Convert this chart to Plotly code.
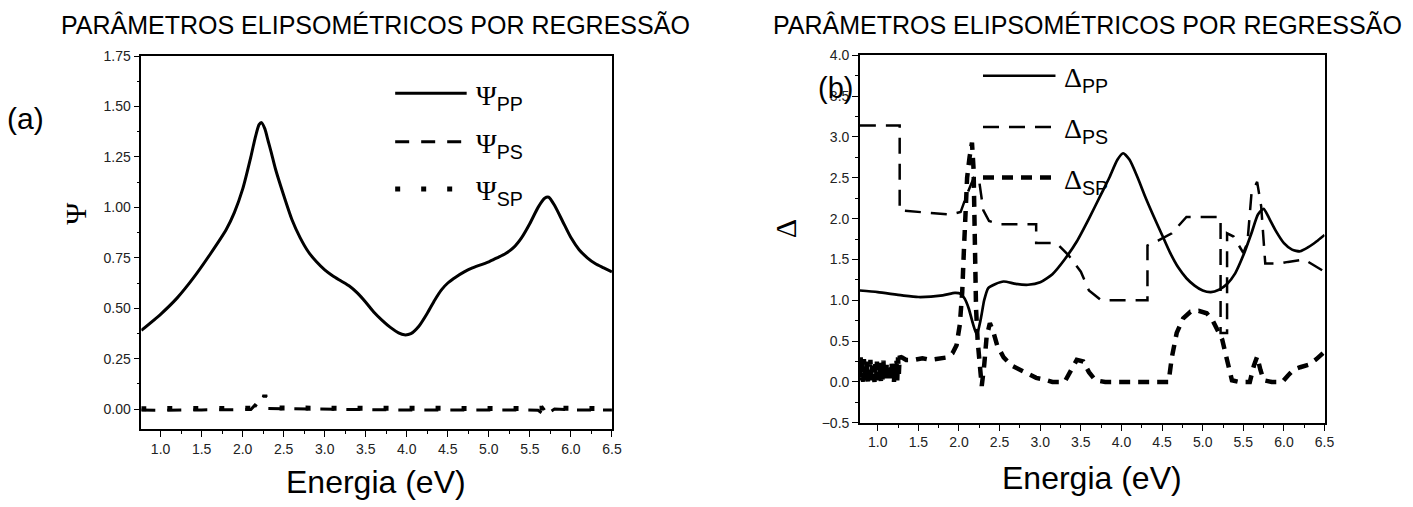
import plotly.graph_objects as go

W, H = 1413, 507

# ---------------- Panel (a): Psi ----------------
E_psi_pp = [0.765, 1.0, 1.2, 1.4, 1.6, 1.8, 1.9, 2.0, 2.1, 2.15, 2.2, 2.23, 2.27, 2.31, 2.35,
            2.4, 2.5, 2.6, 2.7, 2.8, 2.9, 3.0, 3.1, 3.2, 3.3, 3.4, 3.5, 3.6, 3.7, 3.8, 3.9,
            3.97, 4.05, 4.15, 4.25, 4.34, 4.42, 4.5, 4.6, 4.7, 4.8, 4.9, 5.0, 5.1, 5.2, 5.3,
            5.4, 5.5, 5.6, 5.68, 5.73, 5.8, 5.9, 6.0, 6.1, 6.2, 6.3, 6.4, 6.5]
psi_pp = [0.39, 0.47, 0.55, 0.65, 0.765, 0.89, 0.975, 1.09, 1.25, 1.34, 1.41, 1.42, 1.39,
          1.33, 1.27, 1.19, 1.06, 0.94, 0.85, 0.78, 0.73, 0.69, 0.66, 0.635, 0.61, 0.575, 0.53,
          0.48, 0.44, 0.405, 0.378, 0.368, 0.374, 0.412, 0.475, 0.54, 0.59, 0.625, 0.655, 0.68,
          0.70, 0.715, 0.73, 0.75, 0.77, 0.80, 0.85, 0.92, 1.00, 1.045, 1.05, 1.01, 0.93, 0.85,
          0.79, 0.75, 0.72, 0.70, 0.68]

E_psi_ps = [0.765, 1.0, 1.5, 2.0, 2.1, 2.15, 2.2, 2.3, 2.5, 3.0, 3.5, 4.0, 4.5, 5.0, 5.4,
            5.6, 5.68, 5.8, 6.0, 6.5]
psi_ps = [-0.005, -0.006, -0.004, -0.005, -0.002, 0.02, 0.005, 0.003, 0.002, -0.002, -0.004,
          -0.005, -0.004, -0.003, -0.004, -0.006, -0.03, 0.0, -0.004, -0.005]

E_psi_sp = [0.765, 1.0, 1.5, 2.0, 2.2, 2.25, 2.27, 2.29, 2.35, 2.5, 3.0, 3.5, 4.0, 4.5, 5.0,
            5.5, 5.66, 5.71, 5.76, 6.0, 6.5]
psi_sp = [0.002, 0.003, 0.004, 0.003, 0.004, 0.03, 0.07, 0.03, 0.006, 0.005, 0.004, 0.004,
          0.003, 0.003, 0.004, 0.003, 0.005, 0.02, 0.004, 0.003, 0.003]

# ---------------- Panel (b): Delta ----------------
E_del_pp = [0.78, 1.0, 1.3, 1.5, 1.8, 1.95, 2.02, 2.07, 2.12, 2.17, 2.22, 2.27, 2.31, 2.36,
            2.45, 2.55, 2.7, 2.85, 3.0, 3.15, 3.3, 3.45, 3.6, 3.75, 3.85, 3.95, 4.02, 4.1, 4.2,
            4.3, 4.4, 4.5, 4.6, 4.7, 4.8, 4.9, 5.0, 5.1, 5.2, 5.3, 5.4, 5.5, 5.6, 5.68, 5.75,
            5.82, 5.9, 6.0, 6.1, 6.2, 6.3, 6.4, 6.5]
del_pp = [1.12, 1.10, 1.06, 1.04, 1.06, 1.09, 1.08, 1.02, 0.90, 0.72, 0.58, 0.78, 1.00, 1.15,
          1.20, 1.23, 1.20, 1.19, 1.22, 1.32, 1.50, 1.72, 2.00, 2.30, 2.50, 2.72, 2.80, 2.72,
          2.50, 2.25, 2.02, 1.80, 1.58, 1.40, 1.27, 1.18, 1.12, 1.10, 1.13, 1.20, 1.33, 1.55,
          1.82, 2.05, 2.12, 2.00, 1.85, 1.70, 1.62, 1.60, 1.65, 1.72, 1.80]

E_del_ps = [0.78, 1.27, 1.27, 1.5, 1.9, 2.02, 2.1, 2.19, 2.25, 2.3, 2.37, 2.5, 2.7, 2.95, 2.95,
            3.2, 3.35, 3.5, 3.6, 3.75, 4.32, 4.32, 4.45, 4.62, 4.8, 5.22, 5.22, 5.30, 5.30,
            5.38, 5.5, 5.55, 5.6, 5.67, 5.72, 5.77, 5.95, 6.05, 6.25, 6.5]
del_ps = [3.14, 3.14, 2.10, 2.08, 2.05, 2.08, 2.30, 2.52, 2.45, 2.10, 1.97, 1.93, 1.93, 1.93,
          1.70, 1.70, 1.55, 1.35, 1.12, 1.00, 1.00, 1.67, 1.73, 1.82, 2.02, 2.02, 0.60, 0.60,
          1.82, 1.78, 1.58, 1.70, 2.30, 2.45, 2.15, 1.45, 1.45, 1.47, 1.50, 1.35]

E_del_sp = [0.78, 0.79, 0.80, 0.81, 0.82, 0.83, 0.84, 0.85, 0.86, 0.87, 0.88, 0.89, 0.90,
            0.91, 0.92, 0.93, 0.94, 0.95, 0.96, 0.97, 0.98, 0.99, 1.00, 1.01, 1.02, 1.03,
            1.04, 1.05, 1.06, 1.07, 1.08, 1.09, 1.10, 1.11, 1.12, 1.13, 1.14, 1.15, 1.16,
            1.17, 1.18, 1.19, 1.20, 1.21, 1.22, 1.23, 1.24, 1.25, 1.26, 1.27, 1.28,
            1.30, 1.35, 1.45, 1.55, 1.65, 1.75, 1.85, 1.92, 1.97, 2.01, 2.04, 2.06, 2.08,
            2.10, 2.13, 2.16, 2.18, 2.19, 2.20, 2.21, 2.23, 2.25, 2.28, 2.31, 2.34, 2.38,
            2.42, 2.47, 2.55, 2.65, 2.75, 2.85, 2.95, 3.05, 3.15, 3.30, 3.38, 3.45, 3.53,
            3.60, 3.68, 3.80, 4.20, 4.58, 4.62, 4.68, 4.76, 4.85, 4.95, 5.05, 5.12, 5.18,
            5.24, 5.28, 5.32, 5.36, 5.45, 5.58, 5.63, 5.67, 5.71, 5.75, 5.85, 5.98, 6.05,
            6.12, 6.20, 6.30, 6.40, 6.50]
del_sp = [0.05, 0.30, 0.02, 0.22, 0.00, 0.28, 0.05, 0.18, 0.02, 0.25, 0.00, 0.15, 0.08,
          0.27, 0.02, 0.20, 0.05, 0.10, 0.00, 0.22, 0.04, 0.25, 0.02, 0.12, 0.06, 0.24,
          0.00, 0.18, 0.03, 0.26, 0.05, 0.12, 0.01, 0.22, 0.06, 0.20, 0.02, 0.14, 0.00,
          0.25, 0.05, 0.18, 0.00, 0.22, 0.03, 0.28, 0.02, 0.30, 0.10, 0.32, 0.30,
          0.30, 0.27, 0.27, 0.29, 0.27, 0.28, 0.30, 0.35, 0.45, 0.70, 1.10, 1.60, 2.10,
          2.50, 2.75, 2.93, 2.60, 2.00, 1.40, 0.90, 0.50, 0.20, -0.05, 0.20, 0.55, 0.72,
          0.62, 0.45, 0.30, 0.20, 0.15, 0.10, 0.05, 0.03, 0.00, 0.00, 0.15, 0.27, 0.25,
          0.12, 0.02, 0.00, 0.00, 0.00, 0.30, 0.60, 0.78, 0.86, 0.87, 0.84, 0.76, 0.65,
          0.52, 0.35, 0.15, 0.02, 0.00, 0.00, 0.20, 0.31, 0.15, 0.02, 0.00, 0.00, 0.08,
          0.15, 0.18, 0.21, 0.28, 0.37]

title_text = "PARÂMETROS ELIPSOMÉTRICOS POR REGRESSÃO"
xlabel = "Energia (eV)"

SANS = "Liberation Sans, Arial, sans-serif"
SERIF = "Liberation Serif, Times New Roman, serif"

fig = go.Figure()

# panel (a)
fig.add_trace(go.Scatter(x=E_psi_pp, y=psi_pp, mode="lines", xaxis="x", yaxis="y",
                         line=dict(color="black", width=3, shape="spline", smoothing=0.6)))
fig.add_trace(go.Scatter(x=E_psi_ps, y=psi_ps, mode="lines", xaxis="x", yaxis="y",
                         line=dict(color="black", width=3, dash="14px,12px")))
fig.add_trace(go.Scatter(x=E_psi_sp, y=psi_sp, mode="lines", xaxis="x", yaxis="y",
                         line=dict(color="black", width=5, dash="5px,21px")))
# panel (b)
fig.add_trace(go.Scatter(x=E_del_pp, y=del_pp, mode="lines", xaxis="x2", yaxis="y2",
                         line=dict(color="black", width=2.7, shape="spline", smoothing=0.6)))
fig.add_trace(go.Scatter(x=E_del_ps, y=del_ps, mode="lines", xaxis="x2", yaxis="y2",
                         line=dict(color="black", width=2.5, dash="16px,10px")))
fig.add_trace(go.Scatter(x=E_del_sp, y=del_sp, mode="lines", xaxis="x2", yaxis="y2",
                         line=dict(color="black", width=4.5, dash="11px,8px")))

def axis_common():
    return dict(showline=True, linecolor="black", linewidth=1.5, mirror=True,
                ticks="outside", ticklen=6, tickwidth=1.3, tickcolor="black",
                showgrid=False, zeroline=False,
                tickfont=dict(family=SANS, size=14, color="#222"))

xa = axis_common(); xa.update(domain=[142.3 / W, 616.3 / W], range=[0.765, 6.5], anchor="y",
                               tick0=1.0, dtick=0.5, tickformat=".1f",
                               minor=dict(ticks="outside", ticklen=3, tickcolor="black", dtick=0.25, tick0=1.0))
ya = axis_common(); ya.update(domain=[1 - 435 / H, 1 - 49.6 / H], range=[-0.1, 1.75], anchor="x",
                               tick0=0, dtick=0.25, tickformat=".2f",
                               minor=dict(ticks="outside", ticklen=3, tickcolor="black", dtick=0.125, tick0=0))
xb = axis_common(); xb.update(domain=[866 / W, 1334 / W], range=[0.78, 6.5], anchor="y2",
                               tick0=1.0, dtick=0.5, tickformat=".1f",
                               minor=dict(ticks="outside", ticklen=3, tickcolor="black", dtick=0.25, tick0=1.0))
yb = axis_common(); yb.update(domain=[1 - 428.3 / H, 1 - 48.8 / H], range=[-0.5, 4.0], anchor="x2",
                               tick0=0, dtick=0.5, tickformat=".1f",
                               minor=dict(ticks="outside", ticklen=3, tickcolor="black", dtick=0.25, tick0=0))

def px(xp, yp):
    return xp / W, 1 - yp / H

annotations = []
def ann(text, xp, yp, size, family=SANS, angle=0, xanchor="center"):
    x, y = px(xp, yp)
    annotations.append(dict(text=text, x=x, y=y, xref="paper", yref="paper", showarrow=False,
                            xanchor=xanchor, yanchor="middle", textangle=angle,
                            font=dict(family=family, size=size, color="black")))

ann(title_text, 378, 18, 25)
ann(title_text, 1095, 18, 25)
ann("(a)", 26, 114, 30)
ann("(b)", 841, 83, 29)
ann(xlabel, 379, 489, 32)
ann(xlabel, 1100, 485, 32)
ann("Ψ", 76, 212, 30, family=SERIF, angle=-90)
ann("Δ", 791, 228, 30, family=SERIF, angle=-90)

# legends
shapes = []
def leg(x0, x1, yp, width, dash, label):
    a, b = px(x0, yp)
    c, _ = px(x1, yp)
    shapes.append(dict(type="line", xref="paper", yref="paper", x0=a, x1=c, y0=b, y1=b,
                       line=dict(color="black", width=width, dash=dash)))
    ann(f'<span style="font-family:{SERIF}">{label[0]}</span><sub>{label[1:]}</sub>',
        x1 + 7, yp + 4, 28, xanchor="left")

leg(398, 470, 88, 3, "solid", "ΨPP")
leg(398, 470, 138, 3, "14px,12px", "ΨPS")
leg(398, 470, 187, 5, "5px,21px", "ΨSP")
leg(990, 1063, 70, 2.5, "solid", "ΔPP")
leg(990, 1063, 123, 2.5, "16px,10px", "ΔPS")
leg(990, 1063, 175, 4.5, "11px,8px", "ΔSP")

fig.update_layout(width=W, height=H, margin=dict(l=0, r=0, t=0, b=0),
                  paper_bgcolor="white", plot_bgcolor="white", showlegend=False,
                  xaxis=xa, yaxis=ya, xaxis2=xb, yaxis2=yb,
                  annotations=annotations, shapes=shapes)

fig.write_html("out.html")
